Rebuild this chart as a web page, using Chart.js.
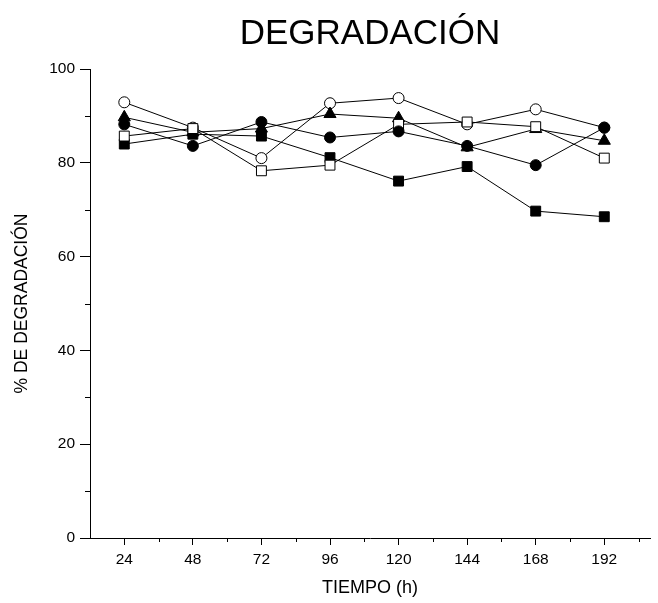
<!DOCTYPE html>
<html>
<head>
<meta charset="utf-8">
<script src="https://cdn.jsdelivr.net/npm/chart.js@4.4.0/dist/chart.umd.min.js"></script>
<style>
  body { margin: 0; background: #fff; }
  #wrap { width: 658px; height: 603px; }
</style>
</head>
<body>
<div id="wrap"><canvas id="chart" width="658" height="603"></canvas></div>
<script>
// tiempo (h)
let tiempos = [24, 48, 72, 96, 120, 144, 168, 192];

// % degradacion por serie
let circuloAbierto = [92.9, 87.5, 81.0, 92.7, 93.8, 88.2, 91.4, 87.5];
let circuloLleno = [88.2, 83.6, 88.7, 85.4, 86.7, 83.6, 79.5, 87.5];
let triangulo = [89.7, 86.5, 87.3, 90.4, 89.5, 83.3, 87.2, 84.7];
let cuadradoAbierto = [85.7, 87.3, 78.3, 79.5, 88.2, 88.7, 87.7, 81.0];
let cuadradoLleno = [84.0, 86.1, 85.7, 81.1, 76.1, 79.2, 69.7, 68.5];

let xTicks = [24, 48, 72, 96, 120, 144, 168, 192];
let xMinor = [36, 60, 84, 108, 132, 156, 180, 204];
let yMinor = [10, 30, 50, 70, 90];

const FONT = "'Liberation Sans', Arial, sans-serif";

function serie(data, style, fill, radius) {
    return {
        data: tiempos.map((t, i) => ({ x: t, y: data[i] })),
        borderColor: '#000',
        borderWidth: 1,
        pointStyle: style,
        pointRadius: radius,
        pointHoverRadius: radius,
        pointBorderWidth: 1,
        pointBorderColor: '#000',
        pointBackgroundColor: fill,
        fill: false,
        tension: 0
    };
}

// minor ticks drawn on the library's own scales
const minorTicks = {
    id: 'minorTicks',
    afterDraw(chart) {
        const ctx = chart.ctx;
        const xs = chart.scales.x;
        const ys = chart.scales.y;
        ctx.save();
        ctx.strokeStyle = '#000';
        ctx.lineWidth = 1;
        ctx.beginPath();
        xMinor.forEach(v => {
            let px = Math.round(xs.getPixelForValue(v)) + 0.5;
            ctx.moveTo(px, xs.top);
            ctx.lineTo(px, xs.top + 4);
        });
        yMinor.forEach(v => {
            let py = Math.round(ys.getPixelForValue(v)) + 0.5;
            ctx.moveTo(ys.right, py);
            ctx.lineTo(ys.right - 5, py);
        });
        ctx.stroke();
        ctx.restore();
    }
};

new Chart(document.getElementById('chart'), {
    type: 'line',
    data: {
        datasets: [
            serie(circuloLleno, 'circle', '#000', 5.5),
            serie(cuadradoAbierto, 'rect', '#fff', 7),
            serie(cuadradoLleno, 'rect', '#000', 7),
            serie(triangulo, 'triangle', '#000', 7),
            serie(circuloAbierto, 'circle', '#fff', 5.5)
        ]
    },
    options: {
        responsive: false,
        animation: false,
        layout: { padding: 0 },
        plugins: {
            legend: { display: false },
            tooltip: { enabled: false },
            title: {
                display: true,
                text: 'DEGRADACIÓN',
                fullSize: false,
                color: '#000',
                font: { family: FONT, size: 35, weight: 'normal' },
                padding: { top: 13, bottom: 14 }
            }
        },
        scales: {
            x: {
                type: 'linear',
                min: 12,
                max: 208,
                afterBuildTicks: s => { s.ticks = xTicks.map(v => ({ value: v })); },
                afterFit: s => {
                    s.height = 65;
                    s.paddingLeft = 0;
                    s.paddingRight = 0;
                },
                border: { color: '#000', width: 1 },
                grid: { drawOnChartArea: false, color: '#000', tickLength: 7 },
                ticks: {
                    color: '#000',
                    padding: 5,
                    maxRotation: 0,
                    font: { family: FONT, size: 15.5 }
                },
                title: {
                    display: true,
                    text: 'TIEMPO (h)',
                    color: '#000',
                    font: { family: FONT, size: 18 },
                    padding: { top: 0, bottom: 4 }
                }
            },
            y: {
                min: 0,
                max: 100,
                afterFit: s => { s.width = 90; },
                border: { color: '#000', width: 1 },
                grid: { drawOnChartArea: false, color: '#000', tickLength: 10 },
                ticks: {
                    stepSize: 20,
                    color: '#000',
                    padding: 5,
                    font: { family: FONT, size: 15.5 }
                },
                title: {
                    display: true,
                    text: '% DE DEGRADACIÓN',
                    color: '#000',
                    font: { family: FONT, size: 17.5 },
                    padding: { top: 12, bottom: 0 }
                }
            }
        }
    },
    plugins: [minorTicks]
});
</script>
</body>
</html>
